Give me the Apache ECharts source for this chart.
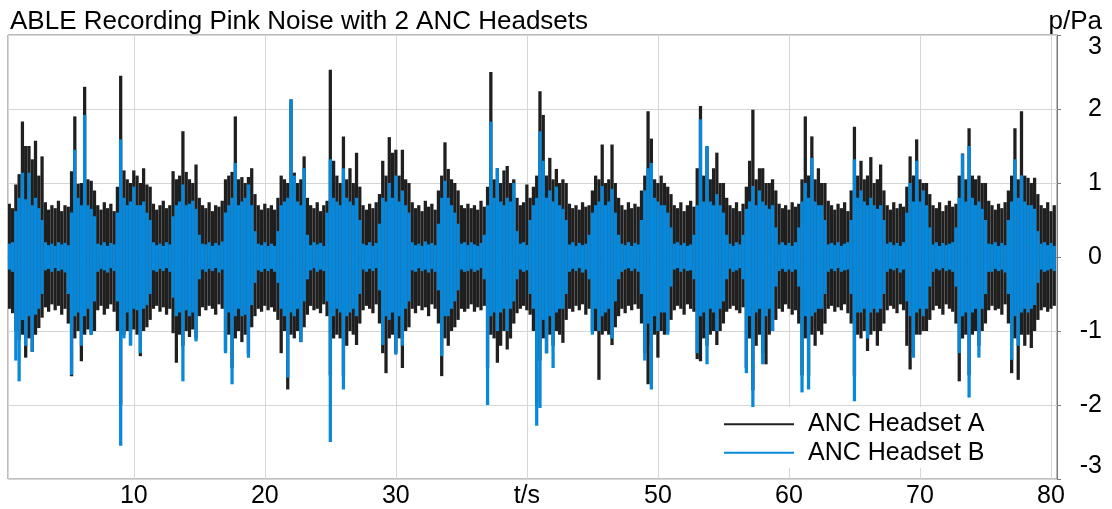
<!DOCTYPE html>
<html>
<head>
<meta charset="utf-8">
<script src="https://cdn.jsdelivr.net/npm/echarts@6/dist/echarts.min.js"></script>
<style>
  html, body { margin: 0; padding: 0; background: #fff; }
  #chart { width: 1112px; height: 509px; }
</style>
</head>
<body>
<div id="chart"></div>
<script>
// Envelope of each recording: one max and one min per 0.25 s bin,
// first bin at t = 0.5 s, one row = 5 s
const T0 = 0.5
const STEP = 0.25

const aTop = [
  .72, .66, .98, 1.12, 1.83, 1.5, 1.5, 1.32, 1.57, 1.1, 1.36, .74, .64, .7, .66, .76, .62, .7, .68, 1.16,
  1.9, .99, 1.0, 2.3, 1.05, 1.03, .9, .7, .64, .74, .66, .72, .62, .95, 2.45, 1.17, 1.05, 1.0, 1.17, 1.1,
  1.0, 1.2, .98, .95, .72, .64, .7, .76, .66, .7, 1.16, 1.05, 1.1, 1.7, 1.15, 1.05, 1.0, 1.25, .8, .7,
  .66, .74, .62, .7, .68, .76, 1.05, 1.1, 1.15, 1.9, 1.05, 1.08, 1.0, 1.08, 1.2, .85, .7, .64, .72, .66,
  .7, .64, .8, 1.1, 1.05, 1.0, 2.13, 1.14, 1.0, 1.05, 1.36, .8, .7, .66, .74, .62, .7, .76, 2.53, 1.3,
  1.1, 1.0, 1.63, 1.05, 1.2, 1.0, 1.41, .95, .7, .64, .72, .66, .74, .85, 1.3, 1.1, 1.62, 1.41, 1.45, 1.1,
  1.45, 1.05, 1.0, .74, .66, .7, .62, .76, .68, .72, .64, .9, 1.1, 1.55, 1.19, 1.05, 1.0, .9, .7, .66,
  .72, .66, .7, .64, .76, .68, .95, 2.5, 1.05, 1.2, 1.0, 1.17, 1.23, 1.0, 1.05, .8, .7, .74, .98, .8,
  .95, 1.1, 2.24, 1.92, 1.1, 1.34, 1.05, 1.19, 1.0, 1.05, 1.0, .72, .66, .7, .64, .74, .68, .7, .9, 1.1,
  1.05, 1.52, 1.0, 1.05, 1.52, 1.0, .8, .7, .64, .74, .66, .72, .68, .9, 1.1, 1.97, 1.6, 1.05, 1.0, 1.1,
  1.0, .95, .85, .7, .66, .74, .62, .7, .76, .68, 1.2, 2.04, 1.1, 1.5, 1.05, 1.2, 1.41, 1.0, 1.0, .8,
  .7, .66, .74, .62, .72, .95, 1.3, 1.99, 1.05, 1.2, 1.2, 1.0, 1.0, 1.05, .9, .72, .66, .7, .64, .74,
  .68, .72, 1.05, 1.9, 1.1, 1.63, 1.05, 1.2, 1.0, 1.0, .76, .7, .64, .72, .66, .74, .62, .9, 1.76, 1.1,
  1.3, 1.05, 1.1, 1.35, 1.0, 1.05, 1.25, .9, .7, .64, .74, .66, .72, .68, .95, 1.36, 1.1, 1.59, 1.05, 1.0,
  1.0, .85, .7, .66, .74, .62, .7, .76, .68, .72, 1.1, 1.4, 1.05, 1.74, 1.1, 1.05, 1.1, 1.0, 1.0, .76,
  .7, .64, .72, .66, .74, .9, 1.1, 1.74, 1.05, 1.97, 1.1, 1.07, 1.0, 1.07, .85, .7, .66, .74, .62, .7
]

const aBot = [
  -.7, -.76, -1.0, -1.12, -1.05, -1.36, -1.1, -1.28, -1.05, -.96, -.82, -.68, -.74, -.64, -.72, -.66, -.78, -.7, -.9, -1.61,
  -1.1, -1.0, -1.41, -1.05, -.98, -1.05, -1.0, -.72, -.66, -.78, -.7, -.64, -.74, -1.0, -2.0, -1.05, -1.0, -1.19, -.98, -1.05,
  -1.34, -1.0, -.95, -.85, -.7, -.66, -.74, -.68, -.78, -.7, -1.03, -1.43, -1.05, -1.2, -1.0, -1.08, -.98, -1.1, -.8, -.68,
  -.72, -.66, -.7, -.78, -.64, -.7, -1.27, -1.05, -1.5, -1.1, -1.0, -1.15, -1.05, -1.3, -.95, -.8, -.7, -.74, -.66, -.72,
  -.68, -.74, -.85, -1.3, -1.0, -1.79, -1.05, -1.1, -1.0, -1.15, -.95, -.78, -.66, -.72, -.7, -.76, -.64, -.8, -1.6, -1.1,
  -1.05, -1.1, -1.6, -1.2, -1.0, -1.05, -1.19, -.9, -.72, -.66, -.7, -.76, -.64, -.9, -1.3, -1.57, -1.1, -1.05, -1.3, -1.1,
  -1.5, -1.0, -.95, -.7, -.76, -.66, -.72, -.68, -.8, -.64, -.7, -.9, -1.61, -1.1, -1.2, -1.0, -.95, -.85, -.7, -.74,
  -.7, -.64, -.74, -.68, -.72, -.66, -1.5, -1.05, -1.1, -1.43, -1.2, -1.0, -1.25, -1.1, -.9, -.76, -.7, -.66, -.72, -.78,
  -1.0, -2.0, -1.4, -1.1, -1.3, -1.05, -1.2, -1.0, -1.05, -1.16, -.85, -.7, -.74, -.66, -.72, -.64, -.78, -.7, -1.0, -1.0,
  -1.66, -1.05, -1.0, -1.05, -1.19, -.95, -.8, -.7, -.76, -.66, -.72, -.64, -.7, -.9, -1.3, -1.72, -1.2, -1.05, -1.36, -1.0,
  -1.05, -1.0, -.85, -.72, -.66, -.7, -.78, -.64, -.7, -.74, -1.38, -1.41, -1.1, -1.2, -1.05, -1.0, -1.19, -1.0, -.9, -.74,
  -.7, -.66, -.72, -.76, -.68, -1.5, -1.1, -1.8, -1.2, -1.05, -1.3, -1.45, -1.05, -1.0, -.85, -.7, -.74, -.64, -.7, -.78,
  -.72, -.9, -1.6, -1.1, -1.6, -1.05, -1.2, -1.0, -1.05, -.9, -.7, -.66, -.74, -.68, -.72, -.64, -.76, -.9, -1.6, -1.05,
  -1.1, -1.0, -1.27, -1.05, -1.0, -1.2, -1.0, -.9, -.72, -.66, -.7, -.76, -.64, -.72, -1.2, -1.52, -1.3, -1.05, -1.05, -1.0,
  -1.0, -.85, -.72, -.66, -.7, -.78, -.64, -.7, -.74, -.9, -1.68, -1.1, -1.05, -1.6, -1.05, -1.0, -1.2, -1.0, -.9, -.72,
  -.66, -.72, -.7, -.78, -.64, -.9, -1.57, -1.1, -1.66, -1.05, -1.2, -1.05, -1.23, -1.0, -.85, -.72, -.68, -.74, -.7, -.66
]

const bTop = [
  .18, .2, .62, .8, 1.14, .78, 1.14, .7, .8, .66, .5, .2, .16, .18, .15, .2, .17, .19, .16, .6,
  1.45, .8, .7, 1.92, .7, .65, .55, .18, .16, .2, .15, .19, .17, .6, 1.59, .8, .7, .75, .95, .7,
  .7, .75, .6, .5, .2, .16, .18, .15, .2, .17, .55, .7, .75, .98, .7, .72, .76, .65, .3, .18,
  .17, .2, .15, .19, .16, .21, .6, .7, .8, 1.27, .7, .75, .8, .98, .7, .35, .18, .16, .2, .15,
  .18, .15, .35, .7, .75, .8, 2.13, 1.1, .75, .7, 1.2, .3, .16, .2, .17, .19, .15, .6, 1.32, .8,
  .75, .7, 1.2, .8, .75, .7, .8, .5, .18, .16, .2, .15, .19, .45, .8, .75, 1.0, .8, 1.1, .75,
  .9, .7, .6, .2, .16, .18, .15, .21, .17, .19, .16, .45, .8, 1.03, .8, .7, .6, .45, .18, .2,
  .16, .2, .17, .15, .19, .3, .7, 1.83, .8, 1.2, .75, .7, .8, .75, 1.0, .35, .18, .2, .16, .5,
  .7, .8, 1.7, 1.3, .8, .9, .75, .95, .7, .65, .5, .17, .2, .15, .19, .16, .18, .3, .6, .7,
  .75, .96, .7, .75, .92, .6, .3, .18, .16, .2, .15, .19, .17, .5, .9, 1.2, 1.27, .8, .75, .7,
  .7, .6, .4, .18, .2, .16, .19, .15, .17, .3, .7, 1.86, .75, 1.5, .75, .7, .85, .7, .6, .3,
  .18, .15, .2, .17, .3, .65, .75, .96, .7, .9, .75, .7, .65, .7, .4, .17, .2, .16, .19, .15,
  .2, .4, .75, 1.0, .8, 1.34, .75, .7, .7, .5, .17, .19, .16, .2, .15, .18, .2, .5, 1.32, .8,
  .9, .75, .7, .8, .7, .65, .7, .5, .18, .2, .16, .19, .15, .2, .6, 1.0, .75, 1.3, .75, .9,
  .7, .4, .17, .2, .15, .19, .16, .18, .2, .4, .8, 1.39, .75, 1.5, .8, .7, .75, .65, .5, .18,
  .17, .2, .15, .19, .16, .5, .75, 1.32, .8, 1.1, .75, .7, .7, .65, .35, .18, .2, .16, .19, .15
]

const bBot = [
  -.17, -.2, -1.4, -1.68, -.85, -1.2, -.8, -1.28, -.78, -.7, -.5, -.18, -.16, -.2, -.15, -.19, -.17, -.21, -.5, -1.59,
  -.8, -.75, -1.2, -.8, -.7, -1.05, -.6, -.2, -.16, -.18, -.21, -.15, -.19, -.6, -2.55, -1.1, -.75, -1.2, -.7, -.72,
  -1.3, -.7, -.65, -.5, -.18, -.2, -.16, -.19, -.15, -.2, -.55, -.8, -.75, -1.68, -.72, -.8, -.75, -1.14, -.3, -.17,
  -.2, -.16, -.19, -.15, -.21, -.17, -1.3, -.75, -1.72, -.8, -.7, -.8, -.78, -1.36, -.65, -.35, -.18, -.2, -.16, -.19,
  -.16, -.2, -.35, -.7, -.8, -1.63, -.75, -.8, -.7, -1.15, -.6, -.3, -.18, -.15, -.2, -.17, -.19, -.6, -2.5, -.8,
  -.7, -.75, -1.79, -.8, -.75, -.7, -.8, -.5, -.17, -.2, -.16, -.19, -.15, -.45, -1.19, -.8, -.85, -.75, -1.32, -.8,
  -1.2, -.7, -.6, -.18, -.2, -.15, -.19, -.17, -.21, -.16, -.2, -.45, -1.34, -.8, -.8, -.7, -.6, -.45, -.17, -.2,
  -.19, -.16, -.2, -.18, -.15, -.3, -2.0, -.8, -.75, -1.0, -.75, -.7, -1.0, -.7, -.6, -.3, -.17, -.2, -.18, -.5,
  -.7, -2.28, -2.04, -.85, -1.3, -.8, -1.5, -.75, -.7, -.7, -.5, -.2, -.16, -.19, -.15, -.21, -.17, -.3, -1.05, -.7,
  -1.0, -.8, -.75, -.7, -1.1, -.6, -.3, -.2, -.17, -.15, -.19, -.16, -.2, -.5, -1.4, -.9, -1.79, -.8, -1.0, -.75,
  -.75, -1.05, -.4, -.17, -.15, -.2, -.16, -.19, -.18, -.3, -1.3, -.8, -.75, -1.45, -.7, -.75, -1.0, -.7, -.6, -.3,
  -.16, -.2, -.18, -.15, -.3, -1.57, -.8, -2.04, -.75, -.7, -1.45, -.8, -.7, -1.0, -.4, -.19, -.16, -.2, -.17, -.2,
  -.17, -.4, -1.83, -.8, -1.79, -.8, -.75, -.7, -.7, -.5, -.2, -.16, -.19, -.15, -.2, -.18, -.17, -.5, -1.95, -.75,
  -.75, -.7, -1.1, -.75, -.7, -.75, -.7, -.5, -.2, -.16, -.18, -.15, -.21, -.17, -.6, -.8, -1.36, -.75, -.7, -.8,
  -.7, -.4, -.2, -.16, -.18, -.15, -.19, -.17, -.2, -.4, -1.3, -.8, -.75, -1.9, -.75, -.7, -1.36, -.7, -.5, -.2,
  -.2, -.16, -.19, -.17, -.21, -.5, -1.39, -.8, -1.2, -.75, -.7, -.75, -.7, -.65, -.35, -.17, -.2, -.18, -.16, -.19
]

const SERIES_NAMES = ['ANC Headset A', 'ANC Headset B']
const COLORS = ['#1f1f1f', '#0888db']
const FONT = 'Liberation Sans, Arial, sans-serif'

function toBins (top, bot) {
  return top.map((v, i) => [T0 + i * STEP, v, bot[i]])
}

// one filled column per bin, from the bin's min to its max
function renderBin (params, api) {
  const t = api.value(0)
  const hi = api.coord([t - STEP / 2, api.value(1)])
  const lo = api.coord([t + STEP / 2, api.value(2)])
  return {
    type: 'rect',
    shape: { x: hi[0], y: hi[1], width: lo[0] - hi[0], height: lo[1] - hi[1] },
    style: { fill: api.visual('color') }
  }
}

const chart = echarts.init(document.getElementById('chart'))

chart.setOption({
  animation: false,
  backgroundColor: '#fff',
  title: [
    {
      text: 'ABLE Recording Pink Noise with 2 ANC Headsets',
      left: 10,
      top: 9,
      padding: 0,
      textStyle: { fontFamily: FONT, fontSize: 26, fontWeight: 'normal', color: '#000' }
    },
    {
      text: 'p/Pa',
      right: 10,
      top: 9,
      padding: 0,
      textStyle: { fontFamily: FONT, fontSize: 26, fontWeight: 'normal', color: '#000' }
    }
  ],
  legend: {
    data: SERIES_NAMES.map((name) => ({ name, icon: 'rect' })),
    orient: 'vertical',
    left: 714,
    top: 407,
    padding: [3, 12, 1, 10],
    itemGap: 0,
    itemWidth: 70,
    itemHeight: 2,
    backgroundColor: '#fff',
    textStyle: { fontFamily: FONT, fontSize: 25, color: '#000', lineHeight: 28.5, padding: [0, 0, 0, 9] }
  },
  grid: {
    left: 8,
    right: 55,
    top: 35,
    bottom: 27,
    show: true,
    borderColor: '#7a7a7a',
    borderWidth: 1
  },
  xAxis: {
    type: 'value',
    min: 0.4,
    max: 80.46,
    splitNumber: 8,
    axisLine: { show: true, lineStyle: { color: '#7a7a7a' } },
    axisTick: { show: false },
    splitLine: { show: true, lineStyle: { color: '#d6d6d6', width: 1 } },
    axisLabel: {
      showMinLabel: false,
      showMaxLabel: false,
      margin: 5,
      fontFamily: FONT,
      fontSize: 25,
      color: '#000',
      formatter: (v) => v === 40 ? 't/s' : String(v)
    }
  },
  yAxis: {
    type: 'value',
    position: 'right',
    min: -3,
    max: 3,
    interval: 1,
    axisLine: { show: true, lineStyle: { color: '#7a7a7a' } },
    axisTick: { show: true, length: 4, lineStyle: { color: '#7a7a7a' } },
    splitLine: { show: true, lineStyle: { color: '#d6d6d6', width: 1 } },
    axisLabel: {
      margin: 45,
      align: 'right',
      verticalAlignMaxLabel: 'top',
      verticalAlignMinLabel: 'bottom',
      fontFamily: FONT,
      fontSize: 25,
      color: '#000'
    }
  },
  series: [
    {
      name: SERIES_NAMES[0],
      type: 'custom',
      clip: true,
      renderItem: renderBin,
      encode: { x: 0, y: [1, 2] },
      data: toBins(aTop, aBot),
      itemStyle: { color: COLORS[0] }
    },
    {
      name: SERIES_NAMES[1],
      type: 'custom',
      clip: true,
      renderItem: renderBin,
      encode: { x: 0, y: [1, 2] },
      data: toBins(bTop, bBot),
      itemStyle: { color: COLORS[1] }
    }
  ]
})
</script>
</body>
</html>
